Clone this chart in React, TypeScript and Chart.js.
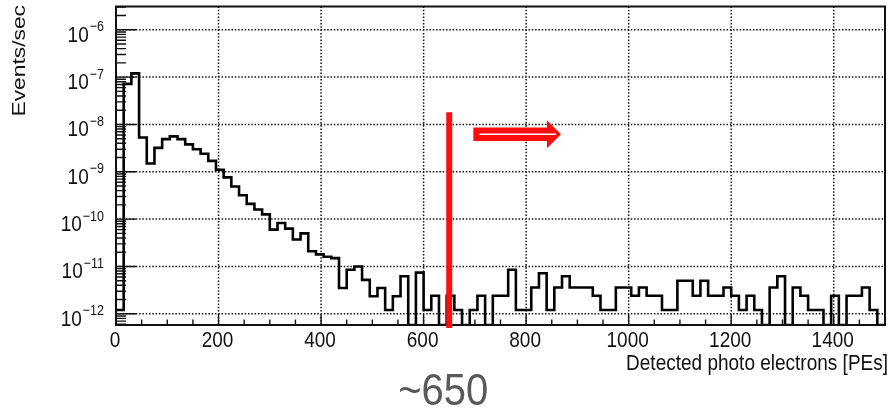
import { useEffect, useRef } from "react";
import { Chart, registerables } from "chart.js";

Chart.register(...registerables);

// Histogram binning (photo electrons per bin) and axis ranges
const BIN_WIDTH = 15;
const PE_MIN = 0;
const PE_MAX = 1500;
const RATE_MIN = 5.8e-13;
const RATE_MAX = 3.1e-6;

// Event rate per 15-PE bin, starting at 0 PE (0 = empty bin)
const eventsPerSec = [
  1.2e-12, 7.2e-8, 1.2e-7, 5.3e-9, 1.5e-9, 3.2e-9, 4.9e-9, 5.6e-9, 4.9e-9, 3.8e-9,
  3.0e-9, 2.4e-9, 1.7e-9, 1.1e-9, 7.6e-10, 4.9e-10, 3.2e-10, 2.1e-10, 1.6e-10, 1.26e-10,
  6.0e-11, 8.3e-11, 6.3e-11, 3.7e-11, 5.0e-11, 2.1e-11, 1.8e-11, 1.6e-11, 1.5e-11, 3.5e-12,
  8.5e-12, 1.0e-11, 5.2e-12, 2.35e-12, 3.5e-12, 1.2e-12, 2.35e-12, 6.2e-12, 0, 7.4e-12,
  1.2e-12, 2.4e-12, 0, 2.4e-12, 1.2e-12, 0, 1.2e-12, 2.4e-12, 0, 2.4e-12,
  2.4e-12, 8.5e-12, 1.2e-12, 1.2e-12, 3.6e-12, 7.2e-12, 1.2e-12, 3.6e-12, 6.2e-12, 3.6e-12,
  3.6e-12, 3.6e-12, 2.4e-12, 1.2e-12, 1.2e-12, 3.6e-12, 3.6e-12, 2.4e-12, 3.6e-12, 2.4e-12,
  2.4e-12, 1.2e-12, 1.2e-12, 5.0e-12, 5.0e-12, 2.4e-12, 5.0e-12, 2.4e-12, 2.4e-12, 3.6e-12,
  2.4e-12, 1.2e-12, 2.4e-12, 1.2e-12, 0, 3.6e-12, 6.2e-12, 0, 3.6e-12, 2.4e-12,
  1.2e-12, 1.2e-12, 0, 2.4e-12, 0, 2.4e-12, 2.4e-12, 3.6e-12, 1.2e-12, 0,
];

// Axis ticks
const xMajorTicks = [0, 200, 400, 600, 800, 1000, 1200, 1400];
const xMinorStep = 50;
const yDecades = [-12, -11, -10, -9, -8, -7, -6];

// Threshold marker and annotation
const thresholdPE = 650;
const thresholdLabel = "~650";
const thresholdTopRate = 1.8e-8;
const arrowFromPE = 697;
const arrowToPE = 868;
const arrowRate = 6.2e-9;

const xTitle = "Detected photo electrons [PEs]";
const yTitle = "Events/sec";

const FONT = '"Liberation Sans", Arial, Helvetica, sans-serif';
const STRETCH = 1.2;
const INK = "#111";

function stretchedText(
  ctx: CanvasRenderingContext2D,
  text: string,
  x: number,
  y: number,
  size: number,
  align: CanvasTextAlign,
  sy = STRETCH,
  color = INK
) {
  ctx.save();
  ctx.translate(x, y);
  ctx.scale(1, sy);
  ctx.font = `${size}px ${FONT}`;
  ctx.fillStyle = color;
  ctx.textAlign = align;
  ctx.textBaseline = "alphabetic";
  ctx.fillText(text, 0, 0);
  ctx.restore();
}

// Outline points: each bin contributes its left and right edge at its rate
function histogramPoints() {
  const pts: { x: number; y: number }[] = [];
  eventsPerSec.forEach((v, i) => {
    pts.push({ x: i * BIN_WIDTH, y: v });
    pts.push({ x: (i + 1) * BIN_WIDTH, y: v });
  });
  return pts;
}

const gridPlugin = {
  id: "dottedGrid",
  beforeDatasetsDraw(chart: any) {
    const { ctx, chartArea: a, scales } = chart;
    const xs = scales.x;
    const ys = scales.y;
    ctx.save();
    ctx.strokeStyle = "#111";
    ctx.lineWidth = 1.5;
    ctx.setLineDash([1.5, 1.8]);
    ctx.beginPath();
    for (const v of xMajorTicks) {
      if (v === PE_MIN) continue;
      const px = xs.getPixelForValue(v);
      ctx.moveTo(px, a.top);
      ctx.lineTo(px, a.bottom);
    }
    for (const d of yDecades) {
      const py = ys.getPixelForValue(Math.pow(10, d));
      ctx.moveTo(a.left, py);
      ctx.lineTo(a.right, py);
    }
    ctx.stroke();
    ctx.restore();
  },
};

const framePlugin = {
  id: "rootFrame",
  afterDatasetsDraw(chart: any) {
    const { ctx, chartArea: a, scales } = chart;
    const xs = scales.x;
    const ys = scales.y;
    ctx.save();

    // tick marks inside the frame
    ctx.strokeStyle = INK;
    ctx.lineWidth = 1.4;
    ctx.setLineDash([]);
    ctx.beginPath();
    for (let v = PE_MIN; v <= PE_MAX; v += xMinorStep) {
      const px = xs.getPixelForValue(v);
      const len = v % 200 === 0 ? 10 : 5.5;
      ctx.moveTo(px, a.bottom);
      ctx.lineTo(px, a.bottom - len);
    }
    for (let e = -13; e <= -6; e++) {
      for (let m = 1; m <= 9; m++) {
        const v = m * Math.pow(10, e);
        if (v < RATE_MIN || v > RATE_MAX) continue;
        const py = ys.getPixelForValue(v);
        ctx.moveTo(a.left, py);
        ctx.lineTo(a.left + (m === 1 ? 20 : 10), py);
      }
    }
    ctx.stroke();

    // frame
    ctx.lineWidth = 2;
    ctx.strokeRect(a.left, a.top, a.right - a.left, a.bottom - a.top);

    // x tick labels
    for (const v of xMajorTicks) {
      stretchedText(ctx, String(v), xs.getPixelForValue(v) - 1, a.bottom + 21.5, 19, "center");
    }

    // y tick labels: 10 with superscript exponent
    for (const d of yDecades) {
      const py = ys.getPixelForValue(Math.pow(10, d));
      const exp = "\u2212" + Math.abs(d);
      ctx.font = `12.5px ${FONT}`;
      const expW = ctx.measureText(exp).width;
      const right = 104;
      stretchedText(ctx, exp, right, py + 1.5, 12.5, "right");
      stretchedText(ctx, "10", right - expW - 1, py + 12, 19, "right");
    }

    // axis titles
    stretchedText(ctx, xTitle, 888, 370, 19, "right");
    ctx.save();
    ctx.translate(25, 5);
    ctx.rotate(-Math.PI / 2);
    ctx.scale(STRETCH, 1);
    ctx.font = `19px ${FONT}`;
    ctx.fillStyle = INK;
    ctx.textAlign = "right";
    ctx.textBaseline = "alphabetic";
    ctx.fillText(yTitle, 0, 0);
    ctx.restore();

    // threshold line
    const tx = xs.getPixelForValue(thresholdPE);
    ctx.strokeStyle = "#ff0d0d";
    ctx.lineWidth = 6;
    ctx.beginPath();
    ctx.moveTo(tx, ys.getPixelForValue(thresholdTopRate));
    ctx.lineTo(tx, a.bottom + 3);
    ctx.stroke();

    // arrow pointing to higher PE
    const ax0 = xs.getPixelForValue(arrowFromPE);
    const ax1 = xs.getPixelForValue(arrowToPE);
    const ay = ys.getPixelForValue(arrowRate);
    const headLen = 14;
    const shaftHalf = 6.7;
    const headHalf = 14;
    ctx.fillStyle = "#ff0d0d";
    ctx.beginPath();
    ctx.moveTo(ax0, ay - shaftHalf);
    ctx.lineTo(ax1 - headLen, ay - shaftHalf);
    ctx.lineTo(ax1 - headLen, ay - headHalf);
    ctx.lineTo(ax1, ay);
    ctx.lineTo(ax1 - headLen, ay + headHalf);
    ctx.lineTo(ax1 - headLen, ay + shaftHalf);
    ctx.lineTo(ax0, ay + shaftHalf);
    ctx.closePath();
    ctx.fill();
    ctx.strokeStyle = "#ffffff";
    ctx.lineWidth = 1.5;
    ctx.beginPath();
    ctx.moveTo(ax0 + 6, ay);
    ctx.lineTo(ax1 - 5, ay);
    ctx.stroke();

    // threshold label
    stretchedText(ctx, thresholdLabel, tx - 6, 405, 40, "center", 1.1, "#595959");

    ctx.restore();
  },
};

export default function App() {
  const ref = useRef<HTMLCanvasElement>(null);

  useEffect(() => {
    if (!ref.current) return;
    const chart = new Chart(ref.current, {
      type: "line",
      data: {
        datasets: [
          {
            data: histogramPoints(),
            borderColor: "#000",
            borderWidth: 2.6,
            pointRadius: 0,
            fill: false,
            tension: 0,
            borderJoinStyle: "miter",
            borderCapStyle: "butt",
          },
        ],
      },
      options: {
        animation: false,
        responsive: false,
        devicePixelRatio: 1,
        parsing: false,
        normalized: true,
        layout: { padding: { left: 116, top: 6.5, right: 9, bottom: 87 } },
        plugins: { legend: { display: false }, tooltip: { enabled: false } },
        scales: {
          x: { type: "linear", min: PE_MIN, max: PE_MAX, display: false },
          y: { type: "logarithmic", min: RATE_MIN, max: RATE_MAX, display: false },
        },
      },
      plugins: [gridPlugin, framePlugin],
    } as any);
    return () => chart.destroy();
  }, []);

  return (
    <div
      style={{
        position: "fixed",
        left: 0,
        top: 0,
        width: 894,
        height: 412,
        background: "#fff",
      }}
    >
      <canvas ref={ref} width={894} height={412} style={{ display: "block", width: 894, height: 412 }} />
    </div>
  );
}
